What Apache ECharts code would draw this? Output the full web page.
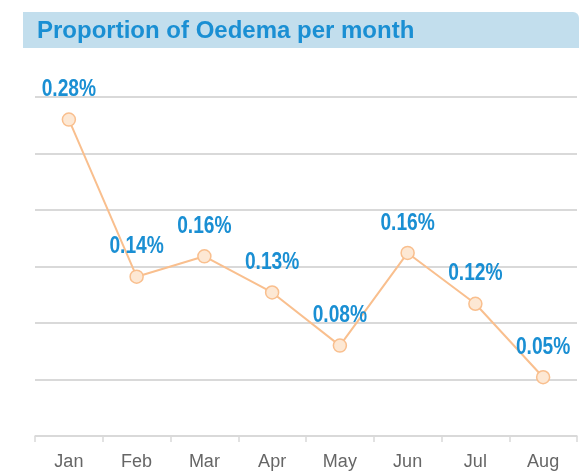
<!DOCTYPE html>
<html><head><meta charset="utf-8">
<script src="https://cdn.jsdelivr.net/npm/echarts@6/dist/echarts.min.js"></script>
<style>html,body{margin:0;padding:0;background:#fff}#c{width:579px;height:471px}</style>
</head><body><div id="c"></div>
<script>
const months = ['Jan','Feb','Mar','Apr','May','Jun','Jul','Aug'];
const proportion = [0.28, 0.141, 0.159, 0.127, 0.08, 0.162, 0.117, 0.052];
const labels = ['0.28%','0.14%','0.16%','0.13%','0.08%','0.16%','0.12%','0.05%'];
const titleText = 'Proportion of Oedema per month';

const chart = echarts.init(document.getElementById('c'), null, {renderer:'canvas'});
chart.setOption({
  animation:false,
  backgroundColor:'#fff',
  graphic:[
    {type:'rect', left:23, top:12, shape:{width:556, height:36, r:[0,6,0,0]}, style:{fill:'#c2deed'}, z:0},
    {type:'text', left:37, top:19, style:{text:titleText, fill:'#1a8fd3', font:'bold 24px "Liberation Sans", Arial, sans-serif'}, z:1}
  ],
  grid:{left:35, right:2, top:97, bottom:35},
  xAxis:{
    type:'category', data:months, boundaryGap:true,
    axisLine:{lineStyle:{color:'#d9d9d9', width:1.5}},
    axisTick:{show:true, length:6, lineStyle:{color:'#d9d9d9', width:1.5}},
    axisLabel:{color:'#666', fontSize:18, margin:17, fontFamily:'"Liberation Sans", sans-serif'}
  },
  yAxis:{
    type:'value', min:0, max:0.3, interval:0.05,
    axisLine:{show:false}, axisTick:{show:false}, axisLabel:{show:false},
    splitLine:{lineStyle:{color:'#d9d9d9', width:2}}
  },
  series:[{
    type:'line', data:proportion,
    lineStyle:{color:'#f9bf8e', width:2},
    symbol:'circle', symbolSize:13,
    itemStyle:{color:'#fde8d4', borderColor:'#f9bf8e', borderWidth:1.5},
    z:2
  },{
    type:'custom', z:5,
    data: proportion.map((v,i)=>[i,v]),
    encode:{x:0, y:1},
    renderItem:function(params, api){
      const pt = api.coord([api.value(0), api.value(1)]);
      return {type:'text', x:pt[0], y:pt[1]-18, scaleX:0.8,
        style:{text:labels[params.dataIndex], fill:'#1a8fd3', align:'center', verticalAlign:'bottom',
          font:'bold 24px "Liberation Sans", Arial, sans-serif'}};
    }
  }]
});
</script></body></html>
